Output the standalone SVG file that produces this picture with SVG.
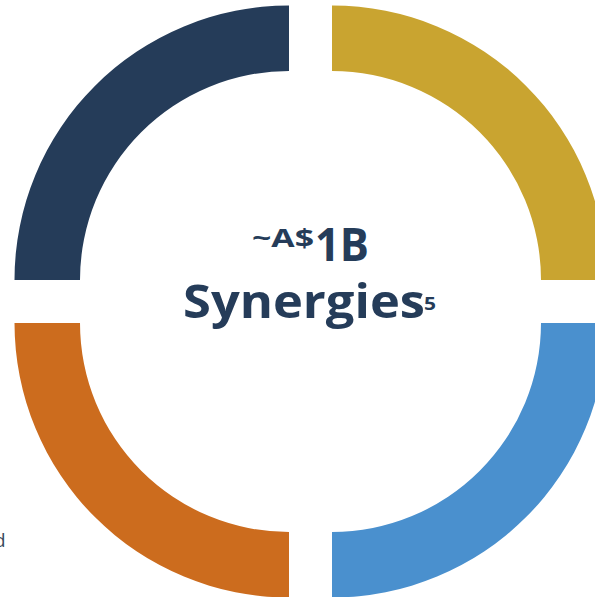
<svg xmlns="http://www.w3.org/2000/svg" width="595" height="597" viewBox="0 0 595 597">
<style>
.t{font-family:"Open Sans","Liberation Sans",sans-serif;font-weight:700;fill:#253C59}
</style>
<rect width="595" height="597" fill="#ffffff"/>
<g id="segment-top-left"><path d="M 14.5 280 A 274.5 274.5 0 0 1 289 5.5 L 289 71 A 209 209 0 0 0 80 280 Z" fill="#253C59"/></g>
<g id="segment-top-right"><path d="M 332 5.5 A 274.5 274.5 0 0 1 606.5 280 L 541 280 A 209 209 0 0 0 332 71 Z" fill="#C9A430"/></g>
<g id="segment-bottom-right"><path d="M 606.5 323 A 274.5 274.5 0 0 1 332 597.5 L 332 532 A 209 209 0 0 0 541 323 Z" fill="#4A90CE"/></g>
<g id="segment-bottom-left"><path d="M 289 597.5 A 274.5 274.5 0 0 1 14.5 323 L 80 323 A 209 209 0 0 0 289 532 Z" fill="#CC6C1E"/></g>
<g id="connectors"/>
<g id="center-label">
<text class="t"><tspan x="252" y="247" font-size="25" textLength="62" lengthAdjust="spacingAndGlyphs">~A$</tspan><tspan x="315" y="261" font-size="46" textLength="54" lengthAdjust="spacingAndGlyphs">1B</tspan></text>
<text class="t"><tspan x="183" y="318" font-size="46" textLength="242" lengthAdjust="spacingAndGlyphs">Synergies</tspan><tspan x="424" y="310" font-size="18" textLength="12" lengthAdjust="spacingAndGlyphs">5</tspan></text>
</g>
<text x="-6" y="547" font-family="Open Sans, Liberation Sans, sans-serif" font-size="19" fill="#3A4A5E">d</text>
</svg>
